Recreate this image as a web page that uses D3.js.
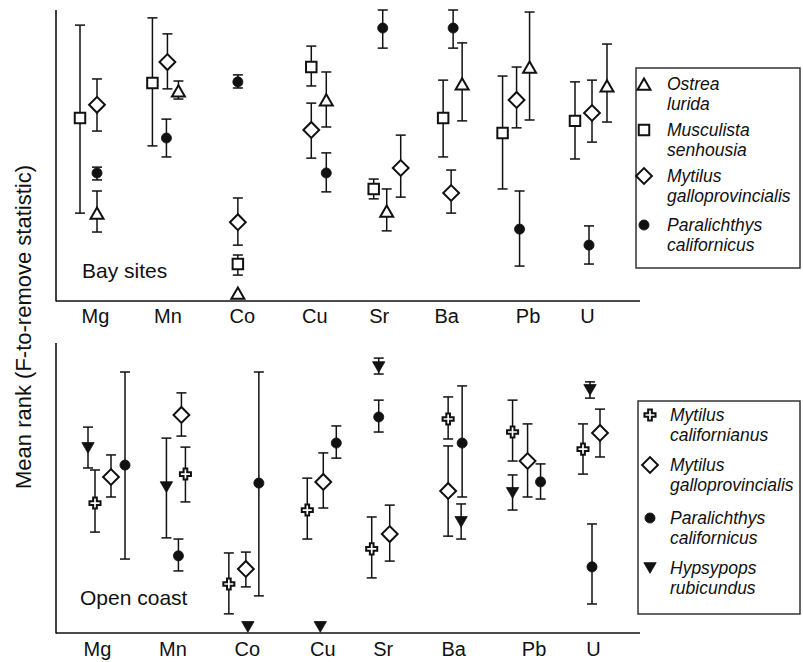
<!DOCTYPE html>
<html><head><meta charset="utf-8">
<script src="https://cdn.jsdelivr.net/npm/d3@7"></script>
<style>
body{margin:0;background:#fff}
svg{display:block}
text{font-family:"Liberation Sans",Arial,Helvetica,sans-serif;fill:#111}
</style>
</head><body>
<svg id="chart" width="803" height="662"></svg>
<script>
// ---------------- DATA ----------------
const elements = ["Mg","Mn","Co","Cu","Sr","Ba","Pb","U"];
// each entry: [mean rank, lower error, upper error]
const bayOstrea       = [[3.02,2.37,3.78],[7.22,6.94,7.56],[0.27,0.27,0.27],[6.91,5.98,7.87],[3.09,2.41,3.85],[7.46,6.19,8.87],[8.04,6.22,9.93],[7.39,6.15,8.83]];
const bayMusculista   = [[6.29,3.02,9.48],[7.49,5.33,9.73],[1.27,0.89,1.58],[8.04,7.39,8.76],[3.85,3.51,4.19],[6.29,4.95,7.59],[5.77,3.85,7.73],[6.19,4.88,7.53]];
const bayMytilusG     = [[6.74,5.84,7.63],[8.21,7.29,9.18],[2.71,1.92,3.54],[5.88,4.91,6.80],[4.57,3.57,5.70],[3.71,3.02,4.50],[6.91,5.95,8.04],[6.46,5.46,7.59]];
const bayParalichthys = [[4.40,4.16,4.60],[5.60,4.95,6.25],[7.53,7.32,7.77],[4.40,3.75,5.09],[9.38,8.69,10.0],[9.38,8.69,10.0],[2.47,1.20,3.78],[1.92,1.27,2.58]];

const coastMytilusC     = [[4.48,3.48,5.62],[5.48,4.52,6.41],[1.69,0.66,2.76],[4.24,3.24,5.34],[2.90,1.90,4.00],[7.38,6.69,8.14],[6.93,5.93,8.03],[6.34,5.48,7.21]];
const coastMytilusG     = [[5.38,4.69,6.14],[7.52,6.79,8.28],[2.21,1.59,2.79],[5.21,4.31,6.21],[3.41,2.48,4.41],[4.90,3.34,6.45],[5.93,4.69,7.21],[6.90,6.07,7.72]];
const coastParalichthys = [[5.79,2.55,9.00],[2.66,2.14,3.24],[5.17,1.28,9.00],[6.55,6.03,7.14],[7.45,6.93,8.03],[6.55,4.69,8.52],[5.21,4.62,5.83],[2.28,1.00,3.76]];
const coastHypsypops    = [[6.38,5.69,7.10],[5.03,3.28,6.72],[0.21,0.21,0.21],[0.21,0.21,0.21],[9.17,8.93,9.48],[3.83,3.24,4.45],[4.83,4.24,5.45],[8.38,8.10,8.66]];

const bayNames   = [["Ostrea","lurida"],["Musculista","senhousia"],["Mytilus","galloprovincialis"],["Paralichthys","californicus"]];
const coastNames = [["Mytilus","californianus"],["Mytilus","galloprovincialis"],["Paralichthys","californicus"],["Hypsypops","rubicundus"]];

// ---------------- LAYOUT ----------------
const ink = "#111";
const layout = {
  bay: {
    yRange:[301,10], axisY:301, top:10, label:"Bay sites", labelPos:[82,278], tickPad:8,
    labelNudge:[-2,0,4,6,0,-3,8,-3],
    dodge:[[0,11,0,18,8,13,10,17],[-17,-15,0,3,-5,-6,-17,-15],[0,0,0,3,22,2,-3,2],[0,-1,0,18,4,4,0,-1]],
    symbols:["triUp","square","diamond","circle"],
    legend:{x0:636,y0:68,x1:800,y1:268,sx:644,tx:667,lines:[[84,104],[130,150],[176,196],[225,245]]}
  },
  coast: {
    yRange:[633,343], axisY:633, top:343, label:"Open coast", labelPos:[80,605], tickPad:9,
    labelNudge:[0,5,9,14,4,4,14,3],
    dodge:[[-2,18,-9,-1,-7,-1,-7,-7],[14,14,8,15,11,-1,8,10],[28,11,21,28,0,13,21,2],[-9,-1,10,12,0,12,-7,0]],
    symbols:["cross","diamond","circle","triDown"],
    legend:{x0:638,y0:401,x1:800,y1:614,sx:650,tx:670,lines:[[415,435],[465,485],[518,538],[568,588]]}
  }
};

const svg = d3.select("#chart");
const x = d3.scalePoint().domain(elements).range([97,590]);

const symDefs = {
  triUp:   {type:d3.symbolTriangle, size:73, rot:0,   fill:"#fff", dy:1.9},
  triDown: {type:d3.symbolTriangle, size:66, rot:180, fill:ink,    dy:-1.8},
  square:  {type:d3.symbolSquare,   size:110, rot:0,  fill:"#fff", dy:0},
  diamond: {type:d3.symbolSquare,   size:125, rot:45, fill:"#fff", dy:0},
  circle:  {type:d3.symbolCircle,   size:80, rot:0,   fill:ink,    dy:0},
  cross:   {type:d3.symbolCross,    size:68, rot:0,   fill:"#fff", dy:0}
};
function drawSymbol(g, key, cx, cy){
  const s = symDefs[key];
  g.append("path")
    .attr("d", d3.symbol().type(s.type).size(s.size)())
    .attr("transform", `translate(${cx},${cy + s.dy}) rotate(${s.rot})`)
    .attr("fill", s.fill)
    .attr("stroke", ink)
    .attr("stroke-width", key==="circle"||key==="triDown" ? 0.8 : 2)
    .attr("stroke-linejoin","miter");
}

function panel(cfg, series, names){
  const y = d3.scaleLinear().domain([0,10]).range(cfg.yRange);
  const g = svg.append("g");

  // axes lines
  g.append("line").attr("x1",56).attr("x2",56).attr("y1",cfg.top).attr("y2",cfg.axisY+0.5)
    .attr("stroke",ink).attr("stroke-width",1.6);
  g.append("line").attr("x1",56).attr("x2",640).attr("y1",cfg.axisY).attr("y2",cfg.axisY)
    .attr("stroke",ink).attr("stroke-width",1.6);

  // category axis
  const ax = g.append("g").attr("transform",`translate(0,${cfg.axisY})`)
    .call(d3.axisBottom(x).tickSize(0).tickPadding(cfg.tickPad));
  ax.select(".domain").remove();
  ax.selectAll(".tick text")
    .attr("font-size",20).attr("fill",ink)
    .style("font-family",'"Liberation Sans",Arial,sans-serif')
    .attr("dx",(d,i)=>cfg.labelNudge[i]);

  // error bars then markers
  series.forEach((ser, si)=>{
    ser.forEach((v, ei)=>{
      const cx = x(elements[ei]) + cfg.dodge[si][ei];
      const [m, lo, hi] = v;
      if (hi > lo){
        const eg = g.append("g").attr("stroke",ink).attr("stroke-width",1.5);
        eg.append("line").attr("x1",cx).attr("x2",cx).attr("y1",y(lo)).attr("y2",y(hi));
        [lo,hi].forEach(t=>eg.append("line").attr("x1",cx-5).attr("x2",cx+5).attr("y1",y(t)).attr("y2",y(t)));
      }
    });
  });
  series.forEach((ser, si)=>{
    ser.forEach((v, ei)=>{
      const cx = x(elements[ei]) + cfg.dodge[si][ei];
      drawSymbol(g, cfg.symbols[si], cx, y(v[0]));
    });
  });

  // panel label
  g.append("text").attr("x",cfg.labelPos[0]).attr("y",cfg.labelPos[1])
    .attr("font-size",21).text(cfg.label);

  // legend
  const L = cfg.legend;
  g.append("rect").attr("x",L.x0).attr("y",L.y0).attr("width",L.x1-L.x0).attr("height",L.y1-L.y0)
    .attr("fill","#fff").attr("stroke","#333").attr("stroke-width",1.5);
  names.forEach((nm, i)=>{
    drawSymbol(g, cfg.symbols[i], L.sx, L.lines[i][0]);
    nm.forEach((t, j)=>{
      g.append("text").attr("x",L.tx).attr("y",L.lines[i][j]).attr("dy","0.35em")
        .attr("font-size",17.5).attr("font-style","italic").text(t);
    });
  });
}

panel(layout.bay, [bayOstrea, bayMusculista, bayMytilusG, bayParalichthys], bayNames);
panel(layout.coast, [coastMytilusC, coastMytilusG, coastParalichthys, coastHypsypops], coastNames);

// y-axis title
svg.append("text")
  .attr("transform","translate(23,327) rotate(-90)")
  .attr("text-anchor","middle").attr("dominant-baseline","central")
  .attr("font-size",22).text("Mean rank (F-to-remove statistic)");
</script>
</body></html>
